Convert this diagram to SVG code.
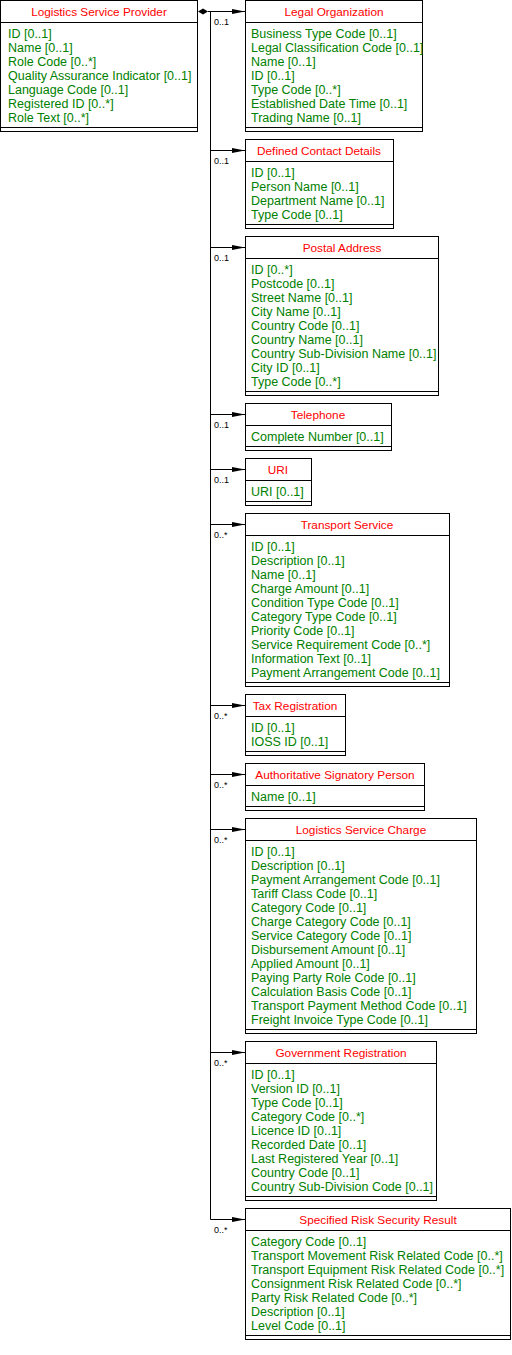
<svg xmlns="http://www.w3.org/2000/svg" width="512" height="1355" viewBox="0 0 512 1355">
<style>
  .box{fill:#fff;stroke:#000;stroke-width:1}
  .ln{stroke:#000;stroke-width:1;fill:none}
  .t{font-family:"Liberation Sans",Arial,sans-serif;font-size:11.8px;fill:#ff0000;text-anchor:middle}
  .a{font-family:"Liberation Sans",Arial,sans-serif;font-size:12.5px;fill:#008000}
  .m{font-family:"Liberation Sans",Arial,sans-serif;font-size:9px;fill:#000}
</style>
<defs>
  <marker id="arr" markerWidth="14" markerHeight="8" refX="13" refY="4" orient="auto" markerUnits="userSpaceOnUse">
    <path d="M0,1.5 L13,4 L0,6.5 Z" fill="#000"/>
  </marker>
</defs>
<rect width="512" height="1355" fill="#fff"/>

<g id="connectors">
  <path class="ln" d="M210.5,11.5 V1219.5"/>
  <path d="M198,11.5 L203,8.5 L208,11.5 L203,14.5 Z" fill="#000"/>
  <path class="ln" d="M208,11.5 H245" marker-end="url(#arr)"/>
  <path class="ln" d="M210.5,150.5 H245" marker-end="url(#arr)"/>
  <path class="ln" d="M210.5,247.5 H245" marker-end="url(#arr)"/>
  <path class="ln" d="M210.5,414.5 H245" marker-end="url(#arr)"/>
  <path class="ln" d="M210.5,469.5 H245" marker-end="url(#arr)"/>
  <path class="ln" d="M210.5,524.5 H245" marker-end="url(#arr)"/>
  <path class="ln" d="M210.5,705.5 H245" marker-end="url(#arr)"/>
  <path class="ln" d="M210.5,774.5 H245" marker-end="url(#arr)"/>
  <path class="ln" d="M210.5,829.5 H245" marker-end="url(#arr)"/>
  <path class="ln" d="M210.5,1052.5 H245" marker-end="url(#arr)"/>
  <path class="ln" d="M210.5,1219.5 H245" marker-end="url(#arr)"/>
  <text class="m" x="214" y="25">0..1</text>
  <text class="m" x="214" y="164">0..1</text>
  <text class="m" x="214" y="261">0..1</text>
  <text class="m" x="214" y="428">0..1</text>
  <text class="m" x="214" y="483">0..1</text>
  <text class="m" x="214" y="538">0..*</text>
  <text class="m" x="214" y="719">0..*</text>
  <text class="m" x="214" y="788">0..*</text>
  <text class="m" x="214" y="843">0..*</text>
  <text class="m" x="214" y="1066">0..*</text>
  <text class="m" x="214" y="1233">0..*</text>
</g>

<g id="logistics-service-provider">
  <rect class="box" x="0.5" y="0.5" width="197" height="131"/>
  <path class="ln" d="M0.5,22.5 H197.5 M0.5,127.5 H197.5"/>
  <text class="t" x="99" y="16">Logistics Service Provider</text>
  <text class="a" x="8" y="38">ID [0..1]</text>
  <text class="a" x="8" y="52">Name [0..1]</text>
  <text class="a" x="8" y="66">Role Code [0..*]</text>
  <text class="a" x="8" y="80">Quality Assurance Indicator [0..1]</text>
  <text class="a" x="8" y="94">Language Code [0..1]</text>
  <text class="a" x="8" y="108">Registered ID [0..*]</text>
  <text class="a" x="8" y="122">Role Text [0..*]</text>
</g>

<g id="legal-organization">
  <rect class="box" x="245.5" y="0.5" width="177" height="131"/>
  <path class="ln" d="M245.5,22.5 H422.5 M245.5,127.5 H422.5"/>
  <text class="t" x="334" y="16">Legal Organization</text>
  <text class="a" x="251" y="38">Business Type Code [0..1]</text>
  <text class="a" x="251" y="52">Legal Classification Code [0..1]</text>
  <text class="a" x="251" y="66">Name [0..1]</text>
  <text class="a" x="251" y="80">ID [0..1]</text>
  <text class="a" x="251" y="94">Type Code [0..*]</text>
  <text class="a" x="251" y="108">Established Date Time [0..1]</text>
  <text class="a" x="251" y="122">Trading Name [0..1]</text>
</g>

<g id="defined-contact-details">
  <rect class="box" x="245.5" y="139.5" width="148" height="89"/>
  <path class="ln" d="M245.5,161.5 H393.5 M245.5,224.5 H393.5"/>
  <text class="t" x="319" y="155">Defined Contact Details</text>
  <text class="a" x="251" y="177">ID [0..1]</text>
  <text class="a" x="251" y="191">Person Name [0..1]</text>
  <text class="a" x="251" y="205">Department Name [0..1]</text>
  <text class="a" x="251" y="219">Type Code [0..1]</text>
</g>

<g id="postal-address">
  <rect class="box" x="245.5" y="236.5" width="193" height="159"/>
  <path class="ln" d="M245.5,258.5 H438.5 M245.5,391.5 H438.5"/>
  <text class="t" x="342" y="252">Postal Address</text>
  <text class="a" x="251" y="274">ID [0..*]</text>
  <text class="a" x="251" y="288">Postcode [0..1]</text>
  <text class="a" x="251" y="302">Street Name [0..1]</text>
  <text class="a" x="251" y="316">City Name [0..1]</text>
  <text class="a" x="251" y="330">Country Code [0..1]</text>
  <text class="a" x="251" y="344">Country Name [0..1]</text>
  <text class="a" x="251" y="358">Country Sub-Division Name [0..1]</text>
  <text class="a" x="251" y="372">City ID [0..1]</text>
  <text class="a" x="251" y="386">Type Code [0..*]</text>
</g>

<g id="telephone">
  <rect class="box" x="245.5" y="403.5" width="146" height="47"/>
  <path class="ln" d="M245.5,425.5 H391.5 M245.5,446.5 H391.5"/>
  <text class="t" x="318" y="419">Telephone</text>
  <text class="a" x="251" y="441">Complete Number [0..1]</text>
</g>

<g id="uri">
  <rect class="box" x="245.5" y="458.5" width="66" height="47"/>
  <path class="ln" d="M245.5,480.5 H311.5 M245.5,501.5 H311.5"/>
  <text class="t" x="278" y="474">URI</text>
  <text class="a" x="251" y="496">URI [0..1]</text>
</g>

<g id="transport-service">
  <rect class="box" x="245.5" y="513.5" width="204" height="173"/>
  <path class="ln" d="M245.5,535.5 H449.5 M245.5,682.5 H449.5"/>
  <text class="t" x="347" y="529">Transport Service</text>
  <text class="a" x="251" y="551">ID [0..1]</text>
  <text class="a" x="251" y="565">Description [0..1]</text>
  <text class="a" x="251" y="579">Name [0..1]</text>
  <text class="a" x="251" y="593">Charge Amount [0..1]</text>
  <text class="a" x="251" y="607">Condition Type Code [0..1]</text>
  <text class="a" x="251" y="621">Category Type Code [0..1]</text>
  <text class="a" x="251" y="635">Priority Code [0..1]</text>
  <text class="a" x="251" y="649">Service Requirement Code [0..*]</text>
  <text class="a" x="251" y="663">Information Text [0..1]</text>
  <text class="a" x="251" y="677">Payment Arrangement Code [0..1]</text>
</g>

<g id="tax-registration">
  <rect class="box" x="245.5" y="694.5" width="100" height="61"/>
  <path class="ln" d="M245.5,716.5 H345.5 M245.5,751.5 H345.5"/>
  <text class="t" x="295" y="710">Tax Registration</text>
  <text class="a" x="251" y="732">ID [0..1]</text>
  <text class="a" x="251" y="746">IOSS ID [0..1]</text>
</g>

<g id="authoritative-signatory-person">
  <rect class="box" x="245.5" y="763.5" width="179" height="47"/>
  <path class="ln" d="M245.5,785.5 H424.5 M245.5,806.5 H424.5"/>
  <text class="t" x="335" y="779">Authoritative Signatory Person</text>
  <text class="a" x="251" y="801">Name [0..1]</text>
</g>

<g id="logistics-service-charge">
  <rect class="box" x="245.5" y="818.5" width="231" height="215"/>
  <path class="ln" d="M245.5,840.5 H476.5 M245.5,1029.5 H476.5"/>
  <text class="t" x="361" y="834">Logistics Service Charge</text>
  <text class="a" x="251" y="856">ID [0..1]</text>
  <text class="a" x="251" y="870">Description [0..1]</text>
  <text class="a" x="251" y="884">Payment Arrangement Code [0..1]</text>
  <text class="a" x="251" y="898">Tariff Class Code [0..1]</text>
  <text class="a" x="251" y="912">Category Code [0..1]</text>
  <text class="a" x="251" y="926">Charge Category Code [0..1]</text>
  <text class="a" x="251" y="940">Service Category Code [0..1]</text>
  <text class="a" x="251" y="954">Disbursement Amount [0..1]</text>
  <text class="a" x="251" y="968">Applied Amount [0..1]</text>
  <text class="a" x="251" y="982">Paying Party Role Code [0..1]</text>
  <text class="a" x="251" y="996">Calculation Basis Code [0..1]</text>
  <text class="a" x="251" y="1010">Transport Payment Method Code [0..1]</text>
  <text class="a" x="251" y="1024">Freight Invoice Type Code [0..1]</text>
</g>

<g id="government-registration">
  <rect class="box" x="245.5" y="1041.5" width="191" height="159"/>
  <path class="ln" d="M245.5,1063.5 H436.5 M245.5,1196.5 H436.5"/>
  <text class="t" x="341" y="1057">Government Registration</text>
  <text class="a" x="251" y="1079">ID [0..1]</text>
  <text class="a" x="251" y="1093">Version ID [0..1]</text>
  <text class="a" x="251" y="1107">Type Code [0..1]</text>
  <text class="a" x="251" y="1121">Category Code [0..*]</text>
  <text class="a" x="251" y="1135">Licence ID [0..1]</text>
  <text class="a" x="251" y="1149">Recorded Date [0..1]</text>
  <text class="a" x="251" y="1163">Last Registered Year [0..1]</text>
  <text class="a" x="251" y="1177">Country Code [0..1]</text>
  <text class="a" x="251" y="1191">Country Sub-Division Code [0..1]</text>
</g>

<g id="specified-risk-security-result">
  <rect class="box" x="245.5" y="1208.5" width="265" height="131"/>
  <path class="ln" d="M245.5,1230.5 H510.5 M245.5,1335.5 H510.5"/>
  <text class="t" x="378" y="1224">Specified Risk Security Result</text>
  <text class="a" x="251" y="1246">Category Code [0..1]</text>
  <text class="a" x="251" y="1260">Transport Movement Risk Related Code [0..*]</text>
  <text class="a" x="251" y="1274">Transport Equipment Risk Related Code [0..*]</text>
  <text class="a" x="251" y="1288">Consignment Risk Related Code [0..*]</text>
  <text class="a" x="251" y="1302">Party Risk Related Code [0..*]</text>
  <text class="a" x="251" y="1316">Description [0..1]</text>
  <text class="a" x="251" y="1330">Level Code [0..1]</text>
</g>
</svg>
